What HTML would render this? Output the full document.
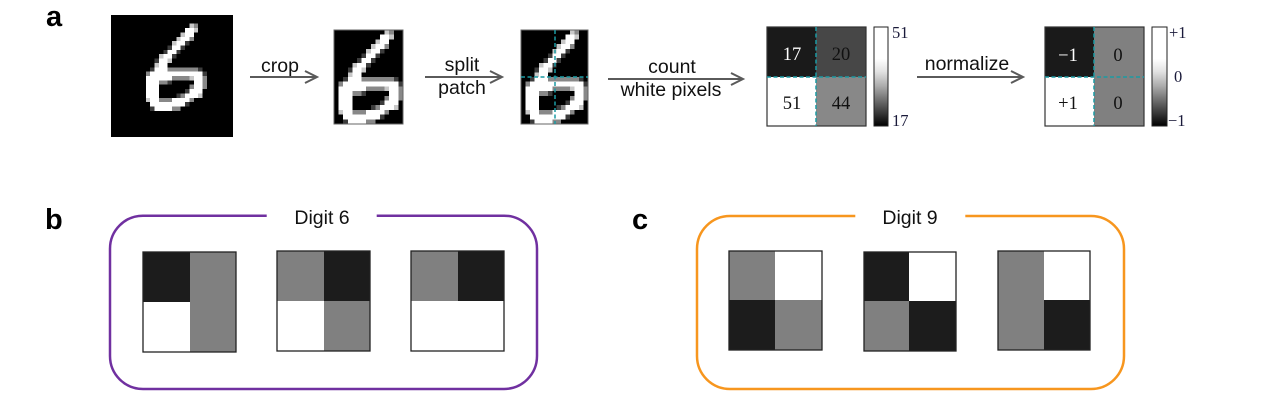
<!DOCTYPE html>
<html><head><meta charset="utf-8"><style>
html,body{margin:0;padding:0;background:#fff;}
svg{display:block;}
.t{font-family:"Liberation Sans",Arial,sans-serif;font-size:19.5px;fill:#111;}
.L{font-family:"Liberation Sans",Arial,sans-serif;font-size:29px;font-weight:bold;fill:#000;}
.n{font-family:"Liberation Serif","DejaVu Serif",serif;font-size:18.5px;text-anchor:middle;}
.cb{font-family:"Liberation Serif","DejaVu Serif",serif;font-size:16.5px;fill:#1a1a3a;}
</style></head><body>
<svg width="1267" height="407" viewBox="0 0 1267 407" xmlns="http://www.w3.org/2000/svg">
<defs>
<g id="d6" shape-rendering="crispEdges">
<rect x="0" y="0" width="28" height="28" fill="#000"/>
<g fill="#fff">
<rect x="17" y="3" width="2" height="1"/>
<rect x="17" y="4" width="2" height="1"/>
<rect x="16" y="5" width="2" height="1"/>
<rect x="15" y="6" width="2" height="1"/>
<rect x="14" y="7" width="2" height="1"/>
<rect x="13" y="8" width="2" height="1"/>
<rect x="12" y="9" width="2" height="1"/>
<rect x="11" y="10" width="2" height="1"/>
<rect x="11" y="11" width="2" height="1"/>
<rect x="10" y="12" width="3" height="1"/>
<rect x="9" y="13" width="12" height="1"/>
<rect x="8" y="14" width="6" height="1"/>
<rect x="19" y="14" width="2" height="1"/>
<rect x="8" y="15" width="3" height="1"/>
<rect x="19" y="15" width="2" height="1"/>
<rect x="8" y="16" width="3" height="1"/>
<rect x="19" y="16" width="2" height="1"/>
<rect x="8" y="17" width="3" height="1"/>
<rect x="18" y="17" width="3" height="1"/>
<rect x="8" y="18" width="3" height="1"/>
<rect x="17" y="18" width="3" height="1"/>
<rect x="9" y="19" width="2" height="1"/>
<rect x="14" y="19" width="4" height="1"/>
<rect x="9" y="20" width="8" height="1"/>
<rect x="10" y="21" width="4" height="1"/>
</g>
<g fill="#c8c8c8">
<rect x="18" y="2" width="1" height="1"/>
<rect x="19" y="3" width="1" height="1"/>
<rect x="16" y="4" width="1" height="1"/>
<rect x="15" y="5" width="1" height="1"/>
<rect x="14" y="6" width="1" height="1"/>
<rect x="11" y="9" width="1" height="1"/>
<rect x="13" y="10" width="1" height="1"/>
<rect x="10" y="11" width="1" height="1"/>
<rect x="18" y="14" width="1" height="1"/>
<rect x="20" y="18" width="1" height="1"/>
<rect x="8" y="19" width="1" height="1"/>
</g>
<g fill="#888">
<rect x="19" y="2" width="1" height="1"/>
<rect x="18" y="5" width="1" height="1"/>
<rect x="13" y="12" width="7" height="1"/>
<rect x="8" y="13" width="1" height="1"/>
<rect x="14" y="14" width="4" height="1"/>
<rect x="21" y="14" width="1" height="1"/>
<rect x="11" y="15" width="2" height="1"/>
<rect x="21" y="15" width="1" height="1"/>
<rect x="18" y="16" width="1" height="1"/>
<rect x="21" y="16" width="1" height="1"/>
<rect x="16" y="18" width="1" height="1"/>
<rect x="11" y="19" width="3" height="1"/>
<rect x="18" y="19" width="1" height="1"/>
<rect x="14" y="21" width="2" height="1"/>
</g>
<g fill="#3c3c3c">
<rect x="17" y="6" width="1" height="1"/>
<rect x="13" y="7" width="1" height="1"/>
<rect x="16" y="7" width="1" height="1"/>
<rect x="12" y="8" width="1" height="1"/>
<rect x="15" y="8" width="1" height="1"/>
<rect x="14" y="9" width="1" height="1"/>
<rect x="10" y="10" width="1" height="1"/>
<rect x="9" y="12" width="1" height="1"/>
<rect x="20" y="12" width="1" height="1"/>
<rect x="21" y="13" width="1" height="1"/>
<rect x="13" y="15" width="1" height="1"/>
<rect x="17" y="17" width="1" height="1"/>
<rect x="15" y="18" width="1" height="1"/>
<rect x="17" y="20" width="1" height="1"/>
<rect x="9" y="21" width="1" height="1"/>
</g>
</g>
<linearGradient id="gr" x1="0" y1="0" x2="0" y2="1">
<stop offset="0" stop-color="#fff"/>
<stop offset="0.32" stop-color="#fff"/>
<stop offset="0.45" stop-color="#e2e2e2"/>
<stop offset="0.6" stop-color="#aaa"/>
<stop offset="0.8" stop-color="#555"/>
<stop offset="1" stop-color="#000"/>
</linearGradient>
</defs>

<!-- panel labels -->
<text class="L" x="46" y="26">a</text>
<text class="L" x="45" y="229">b</text>
<text class="L" x="632" y="229">c</text>

<!-- original digit -->
<svg x="111" y="15" width="122" height="122" viewBox="0 0 28 28" preserveAspectRatio="none"><use href="#d6"/></svg>

<!-- crop arrow -->
<text class="t" x="280" y="72" text-anchor="middle">crop</text>
<g stroke="#5a5a5a" stroke-width="2" fill="none">
<line x1="250" y1="77" x2="316" y2="77"/>
<polyline points="305,71 317,77 305,83"/>
</g>

<!-- cropped digit -->
<svg x="334" y="30" width="69" height="94" viewBox="7 2 15 20" preserveAspectRatio="none"><use href="#d6"/></svg>
<rect x="334" y="30" width="69" height="94" fill="none" stroke="#666" stroke-width="1"/>

<!-- split arrow -->
<text class="t" x="462" y="71" text-anchor="middle">split</text>
<text class="t" x="462" y="94" text-anchor="middle">patch</text>
<g stroke="#5a5a5a" stroke-width="2" fill="none">
<line x1="425" y1="77" x2="501" y2="77"/>
<polyline points="490,71 502,77 490,83"/>
</g>

<!-- split digit -->
<svg x="521" y="30" width="67" height="94" viewBox="7 2 15 20" preserveAspectRatio="none"><use href="#d6"/></svg>
<rect x="521" y="30" width="67" height="94" fill="none" stroke="#666" stroke-width="1"/>
<g stroke="#1b9aa3" stroke-width="1.5" stroke-dasharray="4 2.5">
<line x1="555" y1="30" x2="555" y2="124"/>
<line x1="521" y1="77" x2="588" y2="77"/>
</g>

<!-- count arrow -->
<text class="t" x="672" y="73" text-anchor="middle">count</text>
<text class="t" x="671" y="96" text-anchor="middle">white pixels</text>
<g stroke="#5a5a5a" stroke-width="2" fill="none">
<line x1="608" y1="79" x2="742" y2="79"/>
<polyline points="731,73 743,79 731,85"/>
</g>

<!-- count matrix -->
<rect x="767" y="27" width="49" height="50" fill="#1a1a1a"/>
<rect x="816" y="27" width="50" height="50" fill="#474747"/>
<rect x="767" y="77" width="49" height="49" fill="#fff"/>
<rect x="816" y="77" width="50" height="49" fill="#888"/>
<rect x="767" y="27" width="99" height="99" fill="none" stroke="#333" stroke-width="1.2"/>
<g stroke="#1b9aa3" stroke-width="1.5" stroke-dasharray="4 2.5">
<line x1="816" y1="27" x2="816" y2="126"/>
<line x1="767" y1="77" x2="866" y2="77"/>
</g>
<text class="n" x="792" y="60" fill="#fff">17</text>
<text class="n" x="841" y="60" fill="#111">20</text>
<text class="n" x="792" y="109" fill="#111">51</text>
<text class="n" x="841" y="109" fill="#111">44</text>
<rect x="874" y="27" width="14" height="99" fill="url(#gr)" stroke="#222" stroke-width="1"/>
<text class="cb" x="892" y="38">51</text>
<text class="cb" x="892" y="126">17</text>

<!-- normalize arrow -->
<text class="t" x="967" y="70" text-anchor="middle">normalize</text>
<g stroke="#5a5a5a" stroke-width="2" fill="none">
<line x1="917" y1="77" x2="1022" y2="77"/>
<polyline points="1011,71 1023,77 1011,83"/>
</g>

<!-- normalized matrix -->
<rect x="1045" y="27" width="49" height="50" fill="#1a1a1a"/>
<rect x="1094" y="27" width="50" height="50" fill="#808080"/>
<rect x="1045" y="77" width="49" height="49" fill="#fff"/>
<rect x="1094" y="77" width="50" height="49" fill="#808080"/>
<rect x="1045" y="27" width="99" height="99" fill="none" stroke="#333" stroke-width="1.2"/>
<g stroke="#1b9aa3" stroke-width="1.5" stroke-dasharray="4 2.5">
<line x1="1094" y1="27" x2="1094" y2="126"/>
<line x1="1045" y1="77" x2="1144" y2="77"/>
</g>
<text class="n" x="1068" y="61" fill="#fff">−1</text>
<text class="n" x="1118" y="61" fill="#111">0</text>
<text class="n" x="1068" y="109" fill="#111">+1</text>
<text class="n" x="1118" y="109" fill="#111">0</text>
<rect x="1152" y="27" width="15" height="99" fill="url(#gr)" stroke="#222" stroke-width="1"/>
<text class="cb" x="1169" y="38">+1</text>
<text class="cb" x="1174" y="82">0</text>
<text class="cb" x="1168" y="126">−1</text>

<!-- panel b -->
<path d="M266.7,215.7 H143 A33,33 0 0 0 110,248.7 V356 A33,33 0 0 0 143,389 H504 A33,33 0 0 0 537,356 V248.7 A33,33 0 0 0 504,215.7 H376.7" fill="none" stroke="#7030a0" stroke-width="2.5"/>
<text class="t" x="322" y="224" text-anchor="middle">Digit 6</text>
<g shape-rendering="crispEdges">
<rect x="143" y="252" width="47" height="50" fill="#1c1c1c"/>
<rect x="190" y="252" width="46" height="100" fill="#808080"/>
<rect x="143" y="302" width="47" height="50" fill="#fff"/>
<rect x="277" y="251" width="47" height="50" fill="#808080"/>
<rect x="324" y="251" width="46" height="50" fill="#1c1c1c"/>
<rect x="277" y="301" width="47" height="50" fill="#fff"/>
<rect x="324" y="301" width="46" height="50" fill="#808080"/>
<rect x="411" y="251" width="47" height="50" fill="#808080"/>
<rect x="458" y="251" width="46" height="50" fill="#1c1c1c"/>
<rect x="411" y="301" width="93" height="50" fill="#fff"/>
</g>
<g fill="none" stroke="#222" stroke-width="1.3">
<rect x="143" y="252" width="93" height="100"/>
<rect x="277" y="251" width="93" height="100"/>
<rect x="411" y="251" width="93" height="100"/>
</g>

<!-- panel c -->
<path d="M855.3,216 H730 A33,33 0 0 0 697,249 V356 A33,33 0 0 0 730,389 H1091 A33,33 0 0 0 1124,356 V249 A33,33 0 0 0 1091,216 H965.3" fill="none" stroke="#f7961e" stroke-width="2.5"/>
<text class="t" x="910" y="224" text-anchor="middle">Digit 9</text>
<g shape-rendering="crispEdges">
<rect x="729" y="251" width="46" height="49" fill="#808080"/>
<rect x="775" y="251" width="47" height="49" fill="#fff"/>
<rect x="729" y="300" width="46" height="50" fill="#1c1c1c"/>
<rect x="775" y="300" width="47" height="50" fill="#808080"/>
<rect x="864" y="252" width="45" height="49" fill="#1c1c1c"/>
<rect x="909" y="252" width="47" height="49" fill="#fff"/>
<rect x="864" y="301" width="45" height="50" fill="#808080"/>
<rect x="909" y="301" width="47" height="50" fill="#1c1c1c"/>
<rect x="998" y="251" width="46" height="99" fill="#808080"/>
<rect x="1044" y="251" width="46" height="49" fill="#fff"/>
<rect x="1044" y="300" width="46" height="50" fill="#1c1c1c"/>
</g>
<g fill="none" stroke="#222" stroke-width="1.3">
<rect x="729" y="251" width="93" height="99"/>
<rect x="864" y="252" width="92" height="99"/>
<rect x="998" y="251" width="92" height="99"/>
</g>
</svg>
</body></html>
